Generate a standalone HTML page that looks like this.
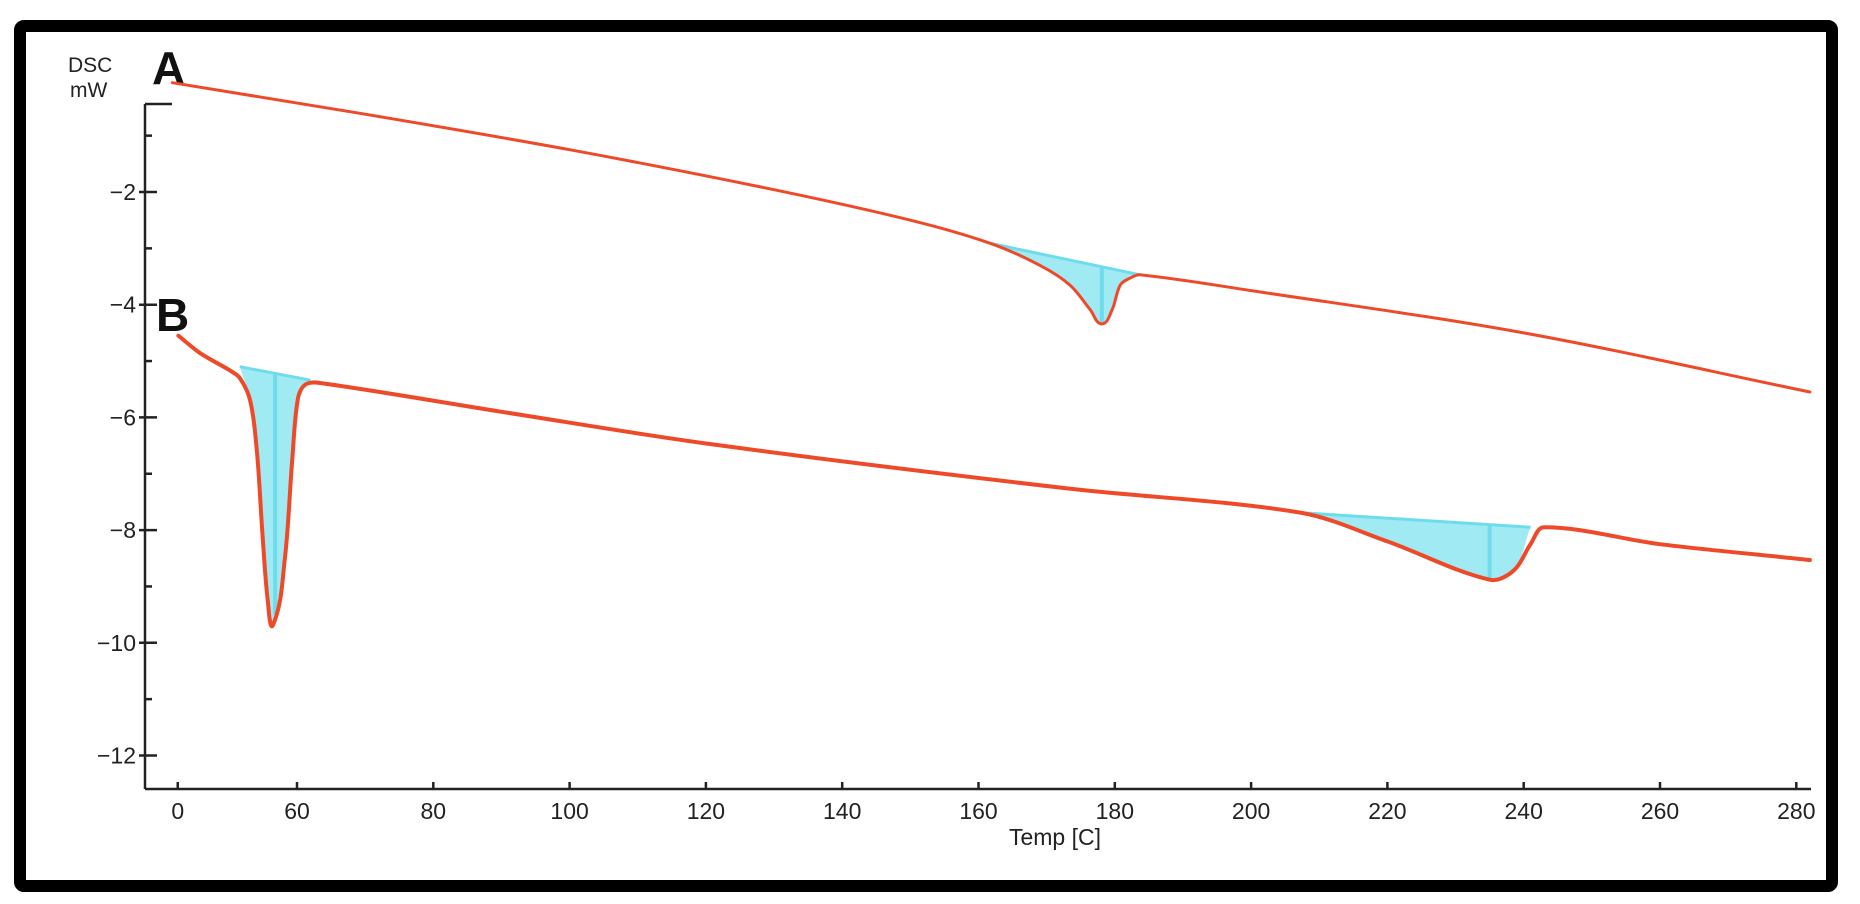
<!DOCTYPE html>
<html><head><meta charset="utf-8"><style>
html,body{margin:0;padding:0;background:#fff;}
#wrap{position:relative;width:1860px;height:904px;overflow:hidden;background:#fff;}
svg text{font-family:"Liberation Sans",sans-serif;}
</style></head><body>
<div id="wrap">
<svg id="chart" width="1860" height="904"></svg>
</div>
<script>
const seriesA_T=[41.7,70,100,130,150,161.7,169,173.4,176.4,178.1,179.6,180.8,182.2,183.7,200,240,282];
const seriesA_V=[-0.06,-0.62,-1.25,-1.96,-2.5,-2.91,-3.30,-3.65,-4.09,-4.34,-4.09,-3.65,-3.53,-3.47,-3.75,-4.5,-5.55];
const seriesB_T=[42.6,45.8,50.2,51.6,53.1,54.1,54.9,55.7,56.5,58.2,59.3,60.1,61.2,63.4,90,121,173,207.2,220,235,238.5,241,243,260,282];
const seriesB_V=[-4.55,-4.86,-5.17,-5.3,-5.69,-6.58,-8.0,-9.24,-9.68,-8.53,-6.76,-5.69,-5.42,-5.39,-5.9,-6.48,-7.26,-7.69,-8.2,-8.88,-8.72,-8.25,-7.95,-8.25,-8.53];
const baseA=[[161.7,-2.91],[183.7,-3.47]];
const peakA=[178.1,-4.34];
const baseB1=[[51.6,-5.1],[62,-5.34]];
const peakB1=[56.8,-9.5];
const baseB2=[[207.2,-7.69],[241,-7.95]];
const peakB2=[235,-8.88];
const yTicks=[-2,-4,-6,-8,-10,-12];
const yMinor=[-1,-3,-5,-7,-9,-11];
const xTickVals=[42.5,60,80,100,120,140,160,180,200,220,240,260,280];
const xTickLabels=["0","60","80","100","120","140","160","180","200","220","240","260","280"];

const X=t=>297+(t-60)*6.815;
const Y=v=>192+(-2-v)*56.35;
const NS="http://www.w3.org/2000/svg";
const svg=document.getElementById('chart');
function mk(tag,attrs,parent){const e=document.createElementNS(NS,tag);for(const k in attrs)e.setAttribute(k,attrs[k]);(parent||svg).appendChild(e);return e;}

const frame=mk('rect',{x:20,y:26,width:1812,height:860,rx:4,fill:'none',stroke:'#000','stroke-width':12});



const axisG=mk('g',{stroke:'#222','stroke-width':2.5,fill:'none'});


mk('line',{x1:145,y1:104,x2:145,y2:789},axisG);
mk('line',{x1:145,y1:104,x2:172,y2:104},axisG);
mk('line',{x1:145,y1:789,x2:1811,y2:789},axisG);
yTicks.forEach(v=>{mk('line',{x1:139,y1:Y(v),x2:157,y2:Y(v)},axisG);
 const t=mk('text',{x:136,y:Y(v)+8,'text-anchor':'end','font-size':23,fill:'#222',stroke:'none'});t.textContent=String(v).replace('-','\u2212');
 
 });
yMinor.forEach(v=>{mk('line',{x1:145,y1:Y(v),x2:152,y2:Y(v)},axisG);});
xTickVals.forEach((tv,i)=>{mk('line',{x1:X(tv),y1:789,x2:X(tv),y2:782},axisG);
 const t=mk('text',{x:X(tv),y:819,'text-anchor':'middle','font-size':23,fill:'#222',stroke:'none'});t.textContent=xTickLabels[i];
 
 });
const xt=mk('text',{x:1055,y:845,'text-anchor':'middle','font-size':23,fill:'#222'});xt.textContent='Temp [C]';


const d1=mk('text',{x:68,y:72,'font-size':21,fill:'#222'});d1.textContent='DSC';


const d2=mk('text',{x:70,y:97,'font-size':21,fill:'#222'});d2.textContent='mW';


const la=mk('text',{x:152,y:84,'font-size':46,'font-weight':'bold',fill:'#111'});la.textContent='A';


const lb=mk('text',{x:156,y:331,'font-size':46,'font-weight':'bold',fill:'#111'});lb.textContent='B';



function smoothPath(pts){
 const n=pts.length;
 const tang=pts.map((p,i)=>{
  const a=pts[Math.max(0,i-1)],b=pts[Math.min(n-1,i+1)];
  const dx=b[0]-a[0],dy=b[1]-a[1],L=Math.hypot(dx,dy)||1;
  return [dx/L,dy/L];
 });
 let d='M'+pts[0][0].toFixed(1)+','+pts[0][1].toFixed(1);
 for(let i=0;i<n-1;i++){
  const p1=pts[i],p2=pts[i+1];
  const s=Math.hypot(p2[0]-p1[0],p2[1]-p1[1])/3;
  const c1=[p1[0]+tang[i][0]*s,p1[1]+tang[i][1]*s];
  const c2=[p2[0]-tang[i+1][0]*s,p2[1]-tang[i+1][1]*s];
  d+=' C'+c1.map(v=>v.toFixed(1)).join(',')+' '+c2.map(v=>v.toFixed(1)).join(',')+' '+p2[0].toFixed(1)+','+p2[1].toFixed(1);
 }
 return d;
}

function fillArea(T,V,base,name){
 const t0=base[0][0],t1=base[1][0];
 let pts=[[X(t0),Y(base[0][1])]];
 T.forEach((t,i)=>{if(t>t0+0.3&&t<t1-0.3)pts.push([X(t),Y(V[i])]);});
 pts.push([X(t1),Y(base[1][1])]);
 const p=mk('path',{d:smoothPath(pts)+' Z',fill:'#8fe6f2',opacity:0.85});
 
 
 const l=mk('line',{x1:X(t0),y1:Y(base[0][1]),x2:X(t1),y2:Y(base[1][1]),stroke:'#6fdcec','stroke-width':3});
 
 
}
function vline(pk,base,name){
 const t0=base[0][0],t1=base[1][0];
 const b=base[0][1]+(base[1][1]-base[0][1])*(pk[0]-t0)/(t1-t0);
 const l=mk('line',{x1:X(pk[0]),y1:Y(b),x2:X(pk[0]),y2:Y(pk[1]),stroke:'#6fdcec','stroke-width':4});
 
 
}
fillArea(seriesA_T,seriesA_V,baseA,'peak-a');
fillArea(seriesB_T,seriesB_V,baseB1,'peak-b1');
fillArea(seriesB_T,seriesB_V,baseB2,'peak-b2');
vline(peakA,baseA,'peak-a');vline(peakB1,baseB1,'peak-b1');vline(peakB2,baseB2,'peak-b2');

function curve(T,V,name,w){
 const pts=T.map((t,i)=>[X(t),Y(V[i])]);
 const p=mk('path',{d:smoothPath(pts),fill:'none',stroke:'#ee4a2a','stroke-width':w,'stroke-linejoin':'round','stroke-linecap':'round'});
 
 
}
curve(seriesA_T,seriesA_V,'curve-a',3);
curve(seriesB_T,seriesB_V,'curve-b',4);
</script>
</body></html>
